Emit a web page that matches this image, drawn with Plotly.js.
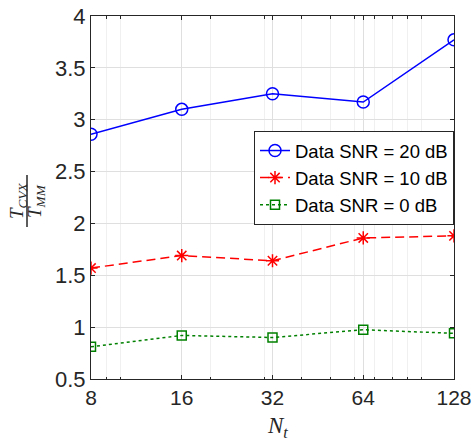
<!DOCTYPE html>
<html>
<head>
<meta charset="utf-8">
<script src="https://cdn.plot.ly/plotly-3.0.1.min.js"></script>
<style>html,body{margin:0;padding:0;background:#fff;}#chart{width:472px;height:442px;}</style>
</head>
<body>
<div id="chart"></div>
<script>
const nt = [8, 16, 32, 64, 128];
const snr20 = [2.86, 3.10, 3.25, 3.17, 3.77];
const snr10 = [1.57, 1.69, 1.64, 1.86, 1.88];
const snr0 = [0.81, 0.92, 0.90, 0.975, 0.94];
const seriesNames = ['Data SNR = 20 dB', 'Data SNR = 10 dB', 'Data SNR = 0 dB'];
const xTickVals = [8, 16, 32, 64, 128];
const xTickText = ['8', '16', '32', '64', '128'];
const xMinorVals = [9, 10, 20, 30, 40, 50, 60, 70, 80, 90, 100];
const yTickVals = [0.5, 1, 1.5, 2, 2.5, 3, 3.5, 4];
const yTickText = ['0.5', '1', '1.5', '2', '2.5', '3', '3.5', '4'];

const axisColor = '#262626';
const traces = [
  {x: nt, y: snr20, name: seriesNames[0], mode: 'lines+markers', type: 'scatter',
   line: {color: '#0000ff', width: 1.5},
   marker: {symbol: 'circle-open', size: 12, color: '#0000ff', line: {width: 1.5}}},
  {x: nt, y: snr10, name: seriesNames[1], mode: 'lines+markers', type: 'scatter',
   line: {color: '#ff0000', width: 1.5, dash: '9px,5px'},
   marker: {symbol: 'asterisk-open', size: 11, color: '#ff0000', line: {width: 1.5, color: '#ff0000'}}},
  {x: nt, y: snr0, name: seriesNames[2], mode: 'lines+markers', type: 'scatter',
   line: {color: '#008000', width: 1.5, dash: 'dot'},
   marker: {symbol: 'square-open', size: 9, color: '#008000', line: {width: 1.5}}}
];

const L = 91, T = 16, W = 363, H = 363;
const px = p => (p - L) / W;
const py = p => (T + H - p) / H;

const layout = {
  width: 472, height: 442,
  margin: {l: L, r: 472 - L - W, t: T, b: 442 - T - H},
  paper_bgcolor: '#fff', plot_bgcolor: '#fff',
  font: {family: 'Liberation Sans, Arial, sans-serif', color: axisColor, size: 21},
  showlegend: true,
  legend: {
    x: 1, xanchor: 'right', y: py(131), yanchor: 'top',
    bgcolor: '#fff', bordercolor: axisColor, borderwidth: 1,
    font: {size: 18.5, color: '#000', family: 'Liberation Sans, Arial, sans-serif'},
    itemwidth: 30, tracegroupgap: 0
  },
  xaxis: {
    type: 'log', range: [Math.log10(8), Math.log10(128)],
    tickmode: 'array', tickvals: xTickVals, ticktext: xTickText,
    ticks: 'inside', ticklen: 4, tickcolor: axisColor, tickwidth: 1,
    showline: true, linecolor: axisColor, linewidth: 1, mirror: 'ticks',
    showgrid: true, gridcolor: '#dfdfdf', gridwidth: 1, zeroline: false,
    tickfont: {size: 21, color: axisColor},
    minor: {tickmode: 'array', tickvals: xMinorVals, ticks: 'inside', ticklen: 2.5,
            tickcolor: axisColor, showgrid: true, gridcolor: '#f0f0f0', gridwidth: 1}
  },
  yaxis: {
    range: [0.5, 4],
    tickmode: 'array', tickvals: yTickVals, ticktext: yTickText,
    ticks: 'inside', ticklen: 4, tickcolor: axisColor, tickwidth: 1,
    showline: true, linecolor: axisColor, linewidth: 1, mirror: 'ticks',
    showgrid: true, gridcolor: '#dfdfdf', gridwidth: 1, zeroline: false,
    tickfont: {size: 22, color: axisColor}
  },
  annotations: [
    {xref: 'paper', yref: 'paper', x: px(18), y: py(201), xanchor: 'center', yanchor: 'middle',
     text: '<i>T</i><sub><i>CVX</i></sub>', textangle: -90, showarrow: false,
     font: {family: 'Liberation Serif, Times New Roman, serif', size: 19, color: axisColor}},
    {xref: 'paper', yref: 'paper', x: px(36), y: py(201), xanchor: 'center', yanchor: 'middle',
     text: '<i>T</i><sub><i>MM</i></sub>', textangle: -90, showarrow: false,
     font: {family: 'Liberation Serif, Times New Roman, serif', size: 19, color: axisColor}},
    {xref: 'paper', yref: 'paper', x: px(277), y: py(427), xanchor: 'center', yanchor: 'middle',
     text: '<i>N</i><sub><i>t</i></sub>', showarrow: false,
     font: {family: 'Liberation Serif, Times New Roman, serif', size: 23, color: axisColor}}
  ],
  shapes: [
    {type: 'line', xref: 'paper', yref: 'paper', x0: px(27), x1: px(27), y0: py(227), y1: py(175),
     line: {color: axisColor, width: 1.5}}
  ]
};

Plotly.newPlot('chart', traces, layout, {displayModeBar: false, staticPlot: true});
</script>
</body>
</html>
